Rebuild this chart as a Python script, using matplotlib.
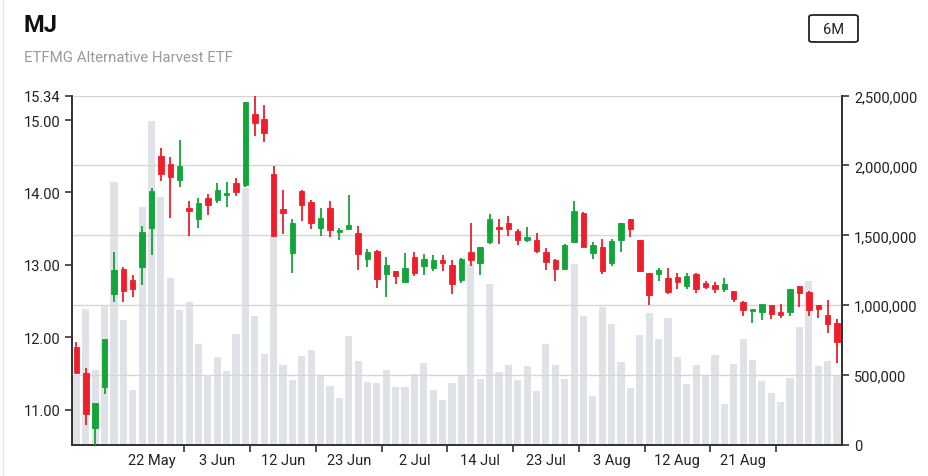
import matplotlib
matplotlib.use("Agg")
import matplotlib.pyplot as plt
from matplotlib.patches import FancyBboxPatch
from matplotlib.lines import Line2D
import numpy as np

plt.rcParams['font.family'] = ['Roboto', 'DejaVu Sans']

title = "MJ"
subtitle = "ETFMG Alternative Harvest ETF"
range_button = "6M"

opens = [11.86, 11.51, 10.74, 11.31, 12.59, 12.94, 12.79, 12.97, 13.51, 14.51,
         14.39, 14.17, 13.78, 13.64, 13.92, 13.89, 13.97, 14.13, 14.10, 15.08,
         15.01, 14.26, 13.77, 13.16, 14.02, 13.87, 13.51, 13.79, 13.45, 13.50,
         13.44, 13.08, 13.19, 12.87, 12.91, 12.76, 13.11, 12.98, 12.95, 13.07,
         13.00, 12.79, 13.18, 13.03, 13.32, 13.52, 13.58, 13.47, 13.34, 13.34,
         13.18, 13.06, 12.94, 13.31, 13.72, 13.16, 13.25, 13.02, 13.34, 13.64,
         13.34, 12.89, 12.87, 12.82, 12.83, 12.71, 12.88, 12.75, 12.72, 12.66,
         12.64, 12.49, 12.36, 12.35, 12.44, 12.35, 12.35, 12.71, 12.63, 12.44,
         12.30, 12.19]
highs = [11.93, 11.58, 11.09, 11.98, 13.18, 12.97, 12.86, 13.54, 14.06, 14.61,
         14.49, 14.73, 13.88, 13.93, 13.98, 14.13, 14.15, 14.20, 15.25, 15.34,
         15.21, 14.37, 14.03, 13.63, 14.03, 13.90, 13.79, 13.88, 13.51, 13.96,
         13.53, 13.22, 13.21, 13.11, 12.91, 13.16, 13.18, 13.15, 13.14, 13.14,
         13.06, 13.09, 13.58, 13.25, 13.70, 13.64, 13.68, 13.49, 13.52, 13.44,
         13.23, 13.08, 13.29, 13.88, 13.73, 13.31, 13.36, 13.36, 13.58, 13.64,
         13.34, 12.89, 12.95, 12.95, 12.89, 12.89, 12.89, 12.78, 12.76, 12.82,
         12.64, 12.50, 12.38, 12.46, 12.44, 12.46, 12.67, 12.71, 12.64, 12.44,
         12.51, 12.25]
lows = [11.50, 10.78, 10.51, 11.22, 12.49, 12.49, 12.56, 12.72, 13.14, 14.16,
        13.65, 14.08, 13.40, 13.51, 13.69, 13.86, 13.80, 13.95, 14.07, 14.78,
        14.70, 13.39, 13.43, 12.89, 13.60, 13.49, 13.40, 13.39, 13.34, 13.49,
        12.93, 12.97, 12.68, 12.55, 12.73, 12.76, 12.85, 12.86, 12.91, 12.91,
        12.60, 12.75, 12.99, 12.86, 13.29, 13.29, 13.40, 13.28, 13.32, 13.16,
        12.93, 12.78, 12.93, 13.30, 13.24, 13.08, 12.88, 12.98, 13.18, 13.39,
        12.90, 12.45, 12.77, 12.60, 12.66, 12.66, 12.61, 12.66, 12.61, 12.63,
        12.49, 12.29, 12.20, 12.24, 12.25, 12.26, 12.29, 12.42, 12.29, 12.26,
        12.06, 11.65]
closes = [11.51, 10.94, 11.09, 11.98, 12.93, 12.64, 12.67, 13.46, 14.02, 14.25,
          14.22, 14.37, 13.74, 13.85, 13.83, 14.04, 13.99, 14.01, 15.25, 14.96,
          14.82, 13.40, 13.72, 13.58, 13.83, 13.58, 13.65, 13.48, 13.48, 13.55,
          13.15, 13.18, 12.80, 13.00, 12.85, 12.96, 12.89, 13.08, 13.07, 13.02,
          12.74, 13.08, 13.06, 13.24, 13.63, 13.49, 13.50, 13.34, 13.39, 13.19,
          13.04, 12.94, 13.28, 13.74, 13.25, 13.28, 12.91, 13.33, 13.58, 13.50,
          12.91, 12.58, 12.93, 12.63, 12.76, 12.85, 12.66, 12.69, 12.66, 12.74,
          12.53, 12.38, 12.38, 12.46, 12.32, 12.31, 12.67, 12.61, 12.37, 12.39,
          12.18, 11.94]
volumes = [495000, 976000, 538000, 993000, 1879000, 895000, 393000, 1705000, 2317000, 1771000,
           1193000, 967000, 1024000, 721000, 495000, 631000, 531000, 793000, 1838000, 924000,
           648000, 1495000, 569000, 462000, 638000, 679000, 495000, 421000, 333000, 779000,
           600000, 452000, 443000, 536000, 417000, 412000, 505000, 590000, 393000, 321000,
           445000, 490000, 1293000, 471000, 1150000, 519000, 571000, 464000, 567000, 386000,
           724000, 571000, 471000, 1293000, 926000, 350000, 990000, 864000, 593000, 410000,
           788000, 943000, 760000, 907000, 633000, 438000, 571000, 490000, 643000, 293000,
           581000, 757000, 610000, 455000, 371000, 305000, 479000, 845000, 1176000, 562000,
           600000, 490000]

date_labels = ["22 May", "3 Jun", "12 Jun", "23 Jun", "2 Jul", "14 Jul",
               "23 Jul", "3 Aug", "12 Aug", "21 Aug"]
date_label_index = [8, 15, 22, 29, 36, 43, 50, 57, 64, 71]

price_ticks = [11.00, 12.00, 13.00, 14.00, 15.00, 15.34]
volume_ticks = [0, 500000, 1000000, 1500000, 2000000, 2500000]

UP = "#12a53a"
DOWN = "#ee1f2b"
VOLC = "#dfe2e6"
AXC = "#333333"

W, H = 929, 477
fig = plt.figure(figsize=(W / 100, H / 100), dpi=100)
fig.patch.set_facecolor("white")

left, right, top, bottom = 71.7, 841.7, 96.5, 446.0
ax2 = fig.add_axes([left / W, 1 - bottom / H, (right - left) / W, (bottom - top) / H])
ax = ax2.twinx()
ax.yaxis.tick_left()
ax.yaxis.set_label_position("left")
ax2.yaxis.tick_right()
ax2.yaxis.set_label_position("right")
ax.set_zorder(ax2.get_zorder() + 1)
ax.patch.set_visible(False)

n = len(opens)
x = np.arange(n)
o = np.array(opens); h = np.array(highs); l = np.array(lows); c = np.array(closes)

# volume
ax2.bar(x, volumes, width=0.76, color=VOLC, zorder=1)
ax2.set_ylim(0, 2500000)
ax2.set_yticks(volume_ticks)
ax2.set_yticklabels([f"{v:,.0f}" for v in volume_ticks])
ax2.grid(axis="y", color="#d6d6d6", linewidth=1.0, zorder=2)
ax2.set_axisbelow(False)
for ln in ax2.get_ygridlines():
    ln.set_zorder(2)

# candles
up = c >= o
colors = np.where(up, UP, DOWN)
ax.vlines(x, l, h, colors=colors, linewidth=1.3, zorder=3)
body_bottom = np.minimum(o, c)
body_h = np.maximum(np.abs(c - o), 0.025)
ax.bar(x, body_h, bottom=body_bottom, width=0.58, color=colors, edgecolor=colors,
       linewidth=0.6, zorder=4)

ax.set_ylim(min(lows), max(highs))
ax.set_yticks(price_ticks)
ax.set_yticklabels([f"{v:.2f}" for v in price_ticks])
ax.set_xlim(-0.5, n - 0.5)

# x axis: ticks at boundaries, labels centred between them
tick_pos = [i + 3.5 for i in date_label_index]
ax2.set_xticks(tick_pos)
ax2.set_xticklabels([""] * len(tick_pos))
ax2.set_xticks(date_label_index, minor=True)
ax2.set_xticklabels(date_labels, minor=True)
ax2.tick_params(axis="x", which="minor", length=0, pad=6, labelsize=10.5, labelcolor="#222222")
ax2.tick_params(axis="x", which="major", length=5, width=1.2, color=AXC, direction="out")
ax.tick_params(axis="x", which="both", bottom=False, top=False, labelbottom=False)

ax.tick_params(axis="y", length=5, width=1.2, color=AXC, direction="out",
               labelsize=10.5, labelcolor="#222222", pad=3)
ax2.tick_params(axis="y", length=5, width=1.2, color=AXC, direction="out",
                labelsize=10.5, labelcolor="#222222", pad=4)

for a in (ax, ax2):
    a.spines["top"].set_visible(False)
    for s in ("left", "right", "bottom"):
        a.spines[s].set_color(AXC)
        a.spines[s].set_linewidth(1.3)

# titles
fig.text(24 / W, 1 - 25 / H, title, fontsize=17, fontweight="bold", color="#111111",
         ha="left", va="center")
fig.text(24 / W, 1 - 58 / H, subtitle, fontsize=10.8, color="#9a9a9a",
         ha="left", va="center")

# range button
bx0, by0, bw, bh = 809, 16, 49, 27
fig.patches.append(FancyBboxPatch((bx0 / W, 1 - (by0 + bh) / H), bw / W, bh / H,
                                  boxstyle="round,pad=0,rounding_size=0.004",
                                  transform=fig.transFigure, facecolor="white",
                                  edgecolor="#222222", linewidth=1.3))
fig.text((bx0 + bw / 2) / W, 1 - (by0 + bh / 2) / H, range_button, fontsize=10.5,
         color="#222222", ha="center", va="center")

# faint card border
fig.lines.append(Line2D([3.5 / W, 3.5 / W], [0, 1], transform=fig.transFigure,
                        color="#e6e6e6", linewidth=1))

fig.savefig("out.png", dpi=100)
